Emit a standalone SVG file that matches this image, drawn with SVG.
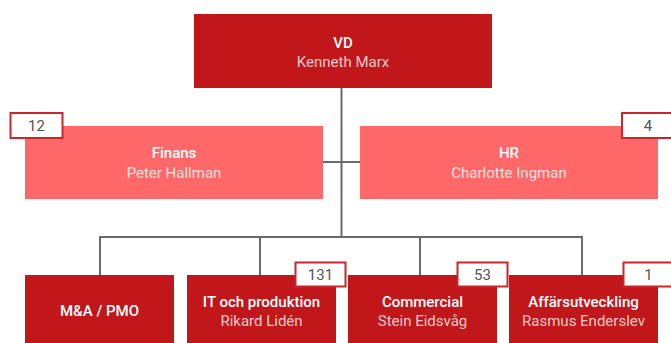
<svg xmlns="http://www.w3.org/2000/svg" width="671" height="343" viewBox="0 0 671 343">
<style>
.dark{fill:#c1171b}
.light{fill:#ff6868}
.t{font-family:Roboto,"Liberation Sans",sans-serif;font-size:15px;text-anchor:middle}
.title{font-weight:500;fill:#ffffff}
.dname{fill:#f3c9c9}
.lname{fill:#ffe0e0}
.badge rect{fill:#ffffff;stroke:#c9262b;stroke-width:2}
.badge text{font-family:Roboto,"Liberation Sans",sans-serif;font-size:15px;fill:#555555;text-anchor:middle}
.conn{stroke:#6a6a6a;stroke-width:2;fill:none}
</style>
<rect width="671" height="343" fill="#ffffff"/>
<g id="connectors" class="conn">
<path d="M341.5 88V237"/>
<path d="M323 162H360"/>
<path d="M100 237H583"/>
<path d="M100 236V275"/>
<path d="M260 236V275"/>
<path d="M420 236V275"/>
<path d="M582 236V275"/>
</g>
<g id="vd">
<rect class="dark" x="194" y="14" width="298" height="74"/>
<text class="t title" x="343" y="48">VD</text>
<text class="t dname" x="343" y="67">Kenneth Marx</text>
</g>
<g id="finans">
<rect class="light" x="25" y="126" width="298" height="73"/>
<text class="t title" x="174" y="158">Finans</text>
<text class="t lname" x="174" y="178">Peter Hallman</text>
<g class="badge"><rect x="10.5" y="113" width="52" height="25"/><text x="36.5" y="131">12</text></g>
</g>
<g id="hr">
<rect class="light" x="360" y="126" width="298" height="73"/>
<text class="t title" x="509" y="158">HR</text>
<text class="t lname" x="509" y="178">Charlotte Ingman</text>
<g class="badge"><rect x="622" y="113" width="52" height="25"/><text x="648" y="131">4</text></g>
</g>
<g id="mapmo">
<rect class="dark" x="25" y="275" width="149" height="70"/>
<text class="t title" x="99.5" y="316">M&amp;A / PMO</text>
</g>
<g id="it">
<rect class="dark" x="187" y="275" width="149" height="70"/>
<text class="t title" x="261.5" y="307">IT och produktion</text>
<text class="t dname" x="261.5" y="326">Rikard Lidén</text>
<g class="badge"><rect x="295.5" y="262.5" width="50" height="24"/><text x="320.5" y="280">131</text></g>
</g>
<g id="commercial">
<rect class="dark" x="348" y="275" width="149" height="70"/>
<text class="t title" x="422.5" y="307">Commercial</text>
<text class="t dname" x="422.5" y="326">Stein Eidsvåg</text>
<g class="badge"><rect x="457.5" y="262.5" width="50" height="24"/><text x="482.5" y="280">53</text></g>
</g>
<g id="affars">
<rect class="dark" x="509" y="275" width="149" height="70"/>
<text class="t title" x="583.5" y="307">Affärsutveckling</text>
<text class="t dname" x="583.5" y="326">Rasmus Enderslev</text>
<g class="badge"><rect x="623.5" y="262.5" width="50" height="24"/><text x="648.5" y="280">1</text></g>
</g>
</svg>
